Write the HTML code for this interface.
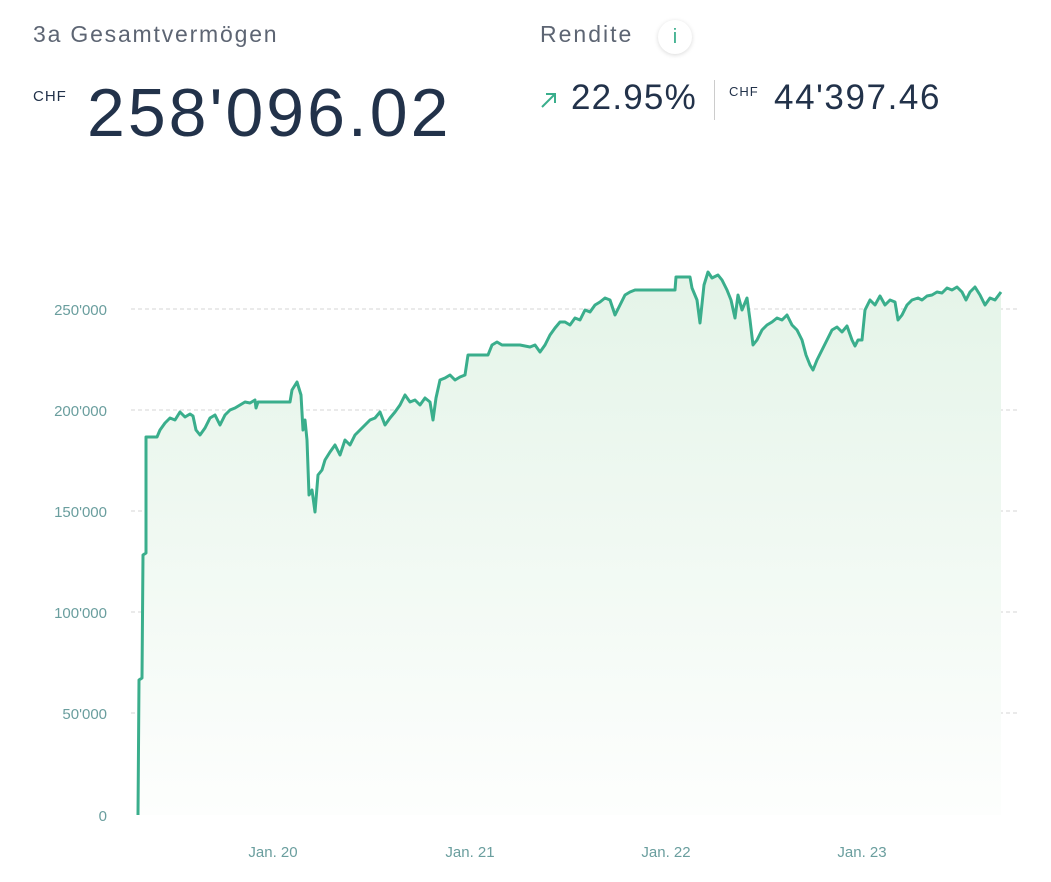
<!DOCTYPE html>
<html><head><meta charset="utf-8"><style>
body{margin:0;width:1051px;height:882px;background:#fff;font-family:"Liberation Sans",sans-serif;position:relative;overflow:hidden}
.a{position:absolute;white-space:nowrap}
</style></head><body>
<div class="a" style="left:33px;top:21px;font-size:23px;color:#5d6573;letter-spacing:1.8px">3a Gesamtvermögen</div>
<div class="a" style="left:33px;top:88px;font-size:15px;color:#22324a;letter-spacing:1px">CHF</div>
<div class="a" style="left:87px;top:74px;font-size:68px;color:#22324a;letter-spacing:3px">258'096.02</div>
<div class="a" style="left:540px;top:21px;font-size:23px;color:#5d6573;letter-spacing:2px">Rendite</div>
<div class="a" style="left:658px;top:20px;width:34px;height:34px;border-radius:50%;box-shadow:0 1px 5px rgba(0,0,0,.15);color:#3aae8c;font-size:20px;text-align:center;line-height:34px">i</div>
<svg class="a" style="left:539px;top:90px" width="20" height="20"><path d="M3 17 L16 4 M7 4 H16 V13" stroke="#3aae8c" stroke-width="2" fill="none"/></svg>
<div class="a" style="left:571px;top:78px;font-size:35px;color:#22324a;letter-spacing:1.2px">22.95%</div>
<div class="a" style="left:714px;top:80px;width:1px;height:40px;background:#ccc"></div>
<div class="a" style="left:729px;top:84px;font-size:13px;color:#22324a;letter-spacing:1px">CHF</div>
<div class="a" style="left:774px;top:78px;font-size:35px;color:#22324a;letter-spacing:1.6px">44'397.46</div>
<svg class="a" style="left:0;top:0" width="1051" height="882">
<defs><linearGradient id="g" x1="0" y1="0" x2="0" y2="1"><stop offset="0" stop-color="#e4f4e8"/><stop offset="1" stop-color="#fdfefd"/></linearGradient></defs>
<g stroke="#d6d6d6" stroke-dasharray="4,3">
<line x1="131" x2="1020" y1="309" y2="309"/><line x1="131" x2="1020" y1="410" y2="410"/><line x1="131" x2="1020" y1="511" y2="511"/><line x1="131" x2="1020" y1="612" y2="612"/><line x1="131" x2="1020" y1="713" y2="713"/></g>
<g font-size="15" fill="#6a9e9e" text-anchor="end" font-family="Liberation Sans,sans-serif">
<text x="107" y="315">250'000</text><text x="107" y="416">200'000</text><text x="107" y="517">150'000</text><text x="107" y="618">100'000</text><text x="107" y="719">50'000</text><text x="107" y="821">0</text></g>
<g font-size="15" fill="#6a9e9e" text-anchor="middle" font-family="Liberation Sans,sans-serif">
<text x="273" y="857">Jan. 20</text><text x="470" y="857">Jan. 21</text><text x="666" y="857">Jan. 22</text><text x="862" y="857">Jan. 23</text></g>
<polygon fill="url(#g)" points="138,815 139,680 142,678 143,555 146,553 146,437 157,437 160,430 165,423 170,418 175,420 180,412 185,417 190,414 193,416 196,430 200,435 205,428 210,418 215,415 220,425 225,415 230,410 235,408 240,405 245,402 250,403 255,400 256,408 258,402 290,402 292,390 297,382 301,395 303,430 305,420 307,440 309,495 312,490 315,512 318,475 322,470 325,460 330,452 335,445 340,455 345,440 350,445 355,435 360,430 365,425 370,420 375,418 380,412 385,425 390,418 395,412 400,405 405,395 410,402 415,400 420,405 425,398 430,402 433,420 436,398 440,380 445,378 450,375 455,380 460,377 465,375 468,355 488,355 492,345 497,342 502,345 520,345 530,347 535,345 540,352 545,345 550,335 555,328 560,322 565,322 570,325 575,318 580,320 585,310 590,312 595,305 600,302 605,298 610,300 615,315 620,305 625,295 630,292 635,290 675,290 676,277 690,277 692,288 697,300 700,323 704,285 708,272 712,278 718,275 722,280 727,290 731,300 735,318 738,295 742,310 747,298 750,320 753,345 757,340 762,330 767,325 772,322 777,318 782,320 787,315 792,325 797,330 802,340 806,355 810,365 813,370 817,360 822,350 827,340 832,330 837,327 842,332 847,326 852,340 855,346 858,340 862,340 865,310 870,300 875,305 880,296 885,305 890,300 895,302 898,320 902,315 907,305 912,300 918,298 922,300 927,296 932,295 937,292 942,293 947,288 952,290 957,287 962,292 966,300 970,292 975,287 980,295 985,305 990,298 995,300 1001,292 1001,815"/>
<polyline fill="none" stroke="#3aae8c" stroke-width="3" stroke-linejoin="round" points="138,815 139,680 142,678 143,555 146,553 146,437 157,437 160,430 165,423 170,418 175,420 180,412 185,417 190,414 193,416 196,430 200,435 205,428 210,418 215,415 220,425 225,415 230,410 235,408 240,405 245,402 250,403 255,400 256,408 258,402 290,402 292,390 297,382 301,395 303,430 305,420 307,440 309,495 312,490 315,512 318,475 322,470 325,460 330,452 335,445 340,455 345,440 350,445 355,435 360,430 365,425 370,420 375,418 380,412 385,425 390,418 395,412 400,405 405,395 410,402 415,400 420,405 425,398 430,402 433,420 436,398 440,380 445,378 450,375 455,380 460,377 465,375 468,355 488,355 492,345 497,342 502,345 520,345 530,347 535,345 540,352 545,345 550,335 555,328 560,322 565,322 570,325 575,318 580,320 585,310 590,312 595,305 600,302 605,298 610,300 615,315 620,305 625,295 630,292 635,290 675,290 676,277 690,277 692,288 697,300 700,323 704,285 708,272 712,278 718,275 722,280 727,290 731,300 735,318 738,295 742,310 747,298 750,320 753,345 757,340 762,330 767,325 772,322 777,318 782,320 787,315 792,325 797,330 802,340 806,355 810,365 813,370 817,360 822,350 827,340 832,330 837,327 842,332 847,326 852,340 855,346 858,340 862,340 865,310 870,300 875,305 880,296 885,305 890,300 895,302 898,320 902,315 907,305 912,300 918,298 922,300 927,296 932,295 937,292 942,293 947,288 952,290 957,287 962,292 966,300 970,292 975,287 980,295 985,305 990,298 995,300 1001,292"/>
</svg>
</body></html>
